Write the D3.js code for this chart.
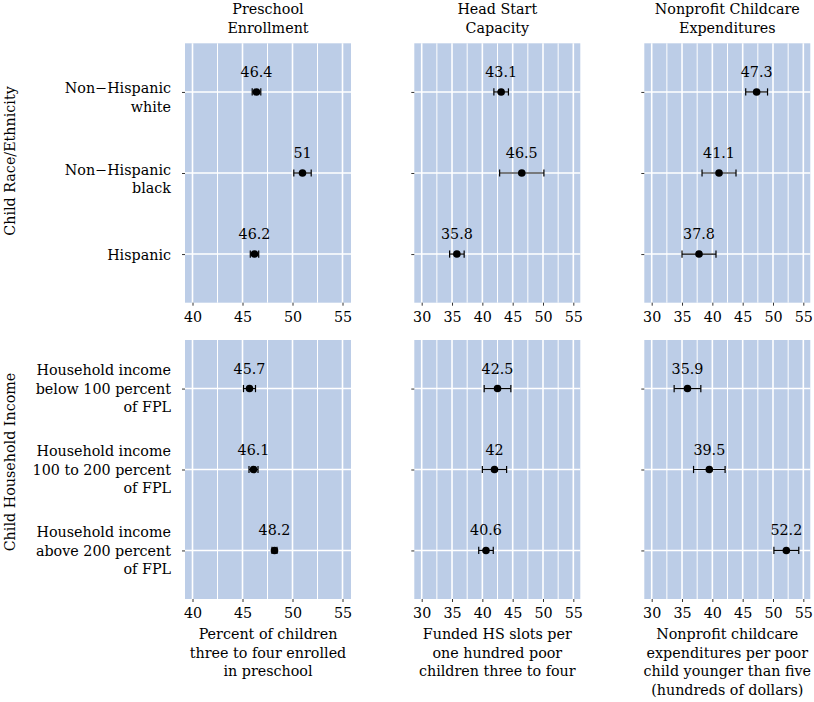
<!DOCTYPE html>
<html>
<head>
<meta charset="utf-8">
<script src="https://cdn.jsdelivr.net/npm/d3@7"></script>
<style>
html,body{margin:0;padding:0;background:#fff;}
svg{display:block;}
text{font-family:"DejaVu Serif",serif;fill:#000;}
</style>
</head>
<body>
<svg id="chart" width="814" height="702"></svg>
<script>
// ---- data ----
const columnTitles = ["Preschool\nEnrollment", "Head Start\nCapacity", "Nonprofit Childcare\nExpenditures"];
const rowTitles = ["Child Race/Ethnicity", "Child Household Income"];
const raceCategories = ["Non\u2212Hispanic\nwhite", "Non\u2212Hispanic\nblack", "Hispanic"];
const incomeCategories = ["Household income\nbelow 100 percent\nof FPL", "Household income\n100 to 200 percent\nof FPL", "Household income\nabove 200 percent\nof FPL"];
const xTitles = ["Percent of children\nthree to four enrolled\nin preschool", "Funded HS slots per\none hundred poor\nchildren three to four", "Nonprofit childcare\nexpenditures per poor\nchild younger than five\n(hundreds of dollars)"];

const preschoolTicks = [40, 45, 50, 55];
const otherTicks = [30, 35, 40, 45, 50, 55];

const preschoolRace = [46.4, 51, 46.2];
const preschoolRaceLow = [45.97, 50.13, 45.78];
const preschoolRaceHigh = [46.83, 51.87, 46.62];
const headStartRace = [43.1, 46.5, 35.8];
const headStartRaceLow = [41.9, 42.85, 34.6];
const headStartRaceHigh = [44.3, 50.15, 37.0];
const nonprofitRace = [47.3, 41.1, 37.8];
const nonprofitRaceLow = [45.5, 38.3, 35.0];
const nonprofitRaceHigh = [49.1, 43.9, 40.6];

const preschoolIncome = [45.7, 46.1, 48.2];
const preschoolIncomeLow = [45.1, 45.65, 47.95];
const preschoolIncomeHigh = [46.3, 46.55, 48.45];
const headStartIncome = [42.5, 42, 40.6];
const headStartIncomeLow = [40.3, 40.0, 39.4];
const headStartIncomeHigh = [44.7, 44.0, 41.8];
const nonprofitIncome = [35.9, 39.5, 52.2];
const nonprofitIncomeLow = [33.7, 36.9, 50.15];
const nonprofitIncomeHigh = [38.1, 42.1, 54.25];

// ---- layout ----
const svg = d3.select("#chart");
const colX = [[185, 351], [414.3, 580.3], [644.3, 810.3]];
const rowY = [[43.3, 302.7], [340, 599]];
const domains = [[39.25, 55.85], [28.78, 56.15], [28.78, 56.15]];
const tickSets = [preschoolTicks, otherTicks, otherTicks];
const rowCats = [raceCategories, incomeCategories];
const panelData = [
  [[preschoolRace, preschoolRaceLow, preschoolRaceHigh], [headStartRace, headStartRaceLow, headStartRaceHigh], [nonprofitRace, nonprofitRaceLow, nonprofitRaceHigh]],
  [[preschoolIncome, preschoolIncomeLow, preschoolIncomeHigh], [headStartIncome, headStartIncomeLow, headStartIncomeHigh], [nonprofitIncome, nonprofitIncomeLow, nonprofitIncomeHigh]]
];
const FS = 14.3;
const LH = 18.6;
const bg = "#bccde7";

function multiText(g, str, x, yFirst, anchor) {
  const t = g.append("text").attr("x", x).attr("y", yFirst).attr("text-anchor", anchor).style("font-size", FS + "px");
  str.split("\n").forEach((line, i) => {
    t.append("tspan").attr("x", x).attr("dy", i === 0 ? 0 : LH).text(line);
  });
  return t;
}

for (let r = 0; r < 2; r++) {
  for (let c = 0; c < 3; c++) {
    const [x0, x1] = colX[c];
    const [y0, y1] = rowY[r];
    const x = d3.scaleLinear().domain(domains[c]).range([x0, x1]);
    const cats = rowCats[r];
    const y = d3.scalePoint().domain(cats).range([y0, y1]).padding(0.6);
    const g = svg.append("g");
    g.append("rect").attr("x", x0).attr("y", y0).attr("width", x1 - x0).attr("height", y1 - y0).attr("fill", bg);
    const ticks = tickSets[c];
    const minor = ticks.slice(0, -1).map((t, i) => (t + ticks[i + 1]) / 2);
    g.selectAll(".minor").data(minor).enter().append("line")
      .attr("x1", d => x(d)).attr("x2", d => x(d)).attr("y1", y0).attr("y2", y1)
      .attr("stroke", "#fff").attr("stroke-width", 1);
    g.selectAll(".major").data(ticks).enter().append("line")
      .attr("x1", d => x(d)).attr("x2", d => x(d)).attr("y1", y0).attr("y2", y1)
      .attr("stroke", "#fff").attr("stroke-width", 1.6);
    g.selectAll(".hgrid").data(cats).enter().append("line")
      .attr("x1", x0).attr("x2", x1).attr("y1", d => y(d)).attr("y2", d => y(d))
      .attr("stroke", "#fff").attr("stroke-width", 1.6);

    // x axis
    const xa = svg.append("g").attr("transform", `translate(0,${y1})`)
      .call(d3.axisBottom(x).tickValues(ticks).tickSize(3).tickPadding(3));
    xa.select(".domain").remove();
    xa.selectAll(".tick line").attr("stroke", "#333");
    xa.selectAll(".tick text").style("font-size", FS + "px").style("font-family", "DejaVu Serif").attr("fill", "#000").attr("dy", "0.9em");

    // y axis ticks
    const ya = svg.append("g").attr("transform", `translate(${x0},0)`)
      .call(d3.axisLeft(y).tickSize(3).tickFormat(""));
    ya.select(".domain").remove();
    ya.selectAll(".tick line").attr("stroke", "#333");

    // data
    const [vals, lo, hi] = panelData[r][c];
    const d = cats.map((k, i) => ({k, v: vals[i], lo: lo[i], hi: hi[i]}));
    const eg = svg.append("g");
    d.forEach(p => {
      const yy = y(p.k);
      eg.append("line").attr("x1", x(p.lo)).attr("x2", x(p.hi)).attr("y1", yy).attr("y2", yy).attr("stroke", "#000").attr("stroke-width", 1.2);
      [p.lo, p.hi].forEach(e => {
        eg.append("line").attr("x1", x(e)).attr("x2", x(e)).attr("y1", yy - 3.6).attr("y2", yy + 3.6).attr("stroke", "#000").attr("stroke-width", 1.2);
      });
      eg.append("circle").attr("cx", x(p.v)).attr("cy", yy).attr("r", 3.8).attr("fill", "#000");
      eg.append("text").attr("x", x(p.v)).attr("y", yy - 15).attr("text-anchor", "middle").style("font-size", FS + "px").text(String(p.v));
    });

    // y labels on first column
    if (c === 0) {
      const firstOff = {1: 6, 2: 1.5, 3: -13.3};
      cats.forEach(k => {
        const n = k.split("\n").length;
        multiText(svg, k, 171, y(k) + firstOff[n], "end");
      });
    }
    // column titles
    if (r === 0) {
      multiText(svg, columnTitles[c], (x0 + x1) / 2, 14, "middle");
    }
    // x titles
    if (r === 1) {
      multiText(svg, xTitles[c], (x0 + x1) / 2, 639, "middle");
    }
  }
  // row titles
  const cy = r === 0 ? 161 : 462;
  svg.append("text").attr("transform", `translate(15,${cy}) rotate(-90)`).attr("text-anchor", "middle")
    .style("font-size", FS + "px").text(rowTitles[r]);
}
</script>
</body>
</html>
